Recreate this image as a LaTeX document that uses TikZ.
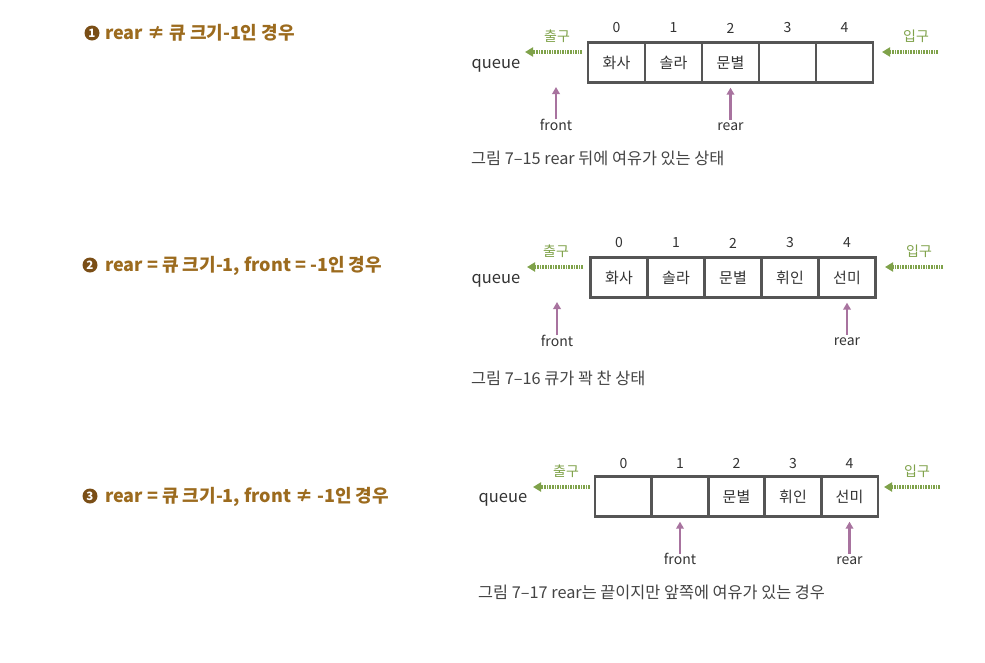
\documentclass[tikz,border=0pt]{standalone}
\usepackage{fontspec}
\setmainfont{Noto Sans CJK KR}
\usetikzlibrary{arrows.meta, positioning}
\definecolor{qBrown}{HTML}{9C6B1E}
\definecolor{qDark}{HTML}{7A4E16}
\definecolor{qGreen}{HTML}{7FA24A}
\definecolor{qPurple}{HTML}{A8739F}
\definecolor{qGray}{HTML}{555555}
\definecolor{qText}{HTML}{333333}
\definecolor{qCap}{HTML}{444444}
\tikzset{
  cell/.style={draw=qGray, line width=2.3pt, minimum width=57pt, minimum height=40pt,
    inner sep=0pt, text=qText, font=\fontsize{15}{16}\selectfont},
  idx/.style={text=qText, inner sep=1pt, font=\fontsize{14}{15}\selectfont},
  lbl/.style={text=qText, inner sep=1pt, text height=10pt, text depth=3pt,
    font=\fontsize{14}{15}\selectfont},
  qname/.style={text=qText, inner sep=1pt, font=\fontsize{16.5}{18}\selectfont},
  gate/.style={text=qGreen, inner sep=1pt, font=\fontsize{14}{15}\selectfont},
  caption/.style={anchor=west, text=qCap, inner sep=0pt, font=\fontsize{16.3}{18}\selectfont},
  heading/.style={anchor=west, text=qBrown, inner sep=0pt, font=\fontsize{18}{19}\selectfont\bfseries},
  badge/.style={circle, fill=qDark, text=white, inner sep=0pt, minimum size=15pt,
    font=\fontsize{11.5}{11.5}\selectfont\bfseries},
  flow/.style={qGreen, line width=3.2pt, dash pattern=on 1.6pt off 1pt,
    -{Triangle[length=8pt, width=9pt]}},
  ptr/.style={qPurple, line width=2.4pt, -{Triangle[length=7pt, width=7.5pt]}}
}
\begin{document}
\begin{tikzpicture}[x=1pt, y=-1pt]
  \useasboundingbox[fill=white] (0,0) rectangle (985,662);

  % case 1
  \node[badge] (b1) at (92,33) {1};
  \node[heading] (h1) at (105,33) {rear ≠ 큐 크기-1인 경우};
  \foreach \v [count=\i from 0] in {화사,솔라,문별,{},{}} {
    \node[cell] (a\i) at (616.5+\i*57,62.5) {\v};
    \node[idx] (ia\i) at (616.5+\i*57,28) {\i};
  }
  \node[qname] (qa) at (496,66) {queue};
  \node[gate] (oa) at (557,36) {출구};
  \node[gate] (ea) at (916,36) {입구};
  \coordinate (oas) at (582,52);
  \coordinate (oae) at (525,52);
  \coordinate (eas) at (938,52);
  \coordinate (eae) at (882,52);
  \draw[flow] (oas) -- (oae);
  \draw[flow] (eas) -- (eae);
  \node[lbl] (fa) at (556,127) {front};
  \node[lbl, below=36pt of a2] (ra) {rear};
  \coordinate (fat) at (556,87);
  \draw[ptr] (fa.north) -- (fat);
  \draw[ptr] (ra.north) -- ([yshift=-4pt]a2.south);
  \node[caption] (ca) at (471,158) {그림 7–15 rear 뒤에 여유가 있는 상태};

  % case 2
  \node[badge] (b2) at (90,265) {2};
  \node[heading] (h2) at (105,266) {rear = 큐 크기-1, front = -1인 경우};
  \foreach \v [count=\i from 0] in {화사,솔라,문별,휘인,선미} {
    \node[cell] (b\i) at (619+\i*57,277.5) {\v};
    \node[idx] (ib\i) at (619+\i*57,243) {\i};
  }
  \node[qname] (qb) at (496,281) {queue};
  \node[gate] (ob) at (556,251) {출구};
  \node[gate] (eb) at (919,251) {입구};
  \coordinate (obs) at (583,267);
  \coordinate (obe) at (527,267);
  \coordinate (ebs) at (943,267);
  \coordinate (ebe) at (885,267);
  \draw[flow] (obs) -- (obe);
  \draw[flow] (ebs) -- (ebe);
  \node[lbl] (fb) at (557,343) {front};
  \node[lbl, below=36pt of b4] (rb) {rear};
  \coordinate (fbt) at (557,302);
  \draw[ptr] (fb.north) -- (fbt);
  \draw[ptr] (rb.north) -- ([yshift=-4pt]b4.south);
  \node[caption] (cb) at (471,378) {그림 7–16 큐가 꽉 찬 상태};

  % case 3
  \node[badge] (b3) at (90,496) {3};
  \node[heading] (h3) at (105,497) {rear = 큐 크기-1, front ≠ -1인 경우};
  \foreach \v [count=\i from 0] in {{},{},문별,휘인,선미} {
    \node[cell] (c\i) at (623.5+\i*56.5,496.5) {\v};
    \node[idx] (ic\i) at (623.5+\i*56.5,463) {\i};
  }
  \node[qname] (qc) at (503,500) {queue};
  \node[gate] (oc) at (566,471) {출구};
  \node[gate] (ec) at (917,471) {입구};
  \coordinate (ocs) at (590,487);
  \coordinate (oce) at (533,487);
  \coordinate (ecs) at (940,487);
  \coordinate (ece) at (884,487);
  \draw[flow] (ocs) -- (oce);
  \draw[flow] (ecs) -- (ece);
  \node[lbl, below=36pt of c1] (fc) {front};
  \node[lbl, below=36pt of c4] (rc) {rear};
  \draw[ptr] (fc.north) -- ([yshift=-4pt]c1.south);
  \draw[ptr] (rc.north) -- ([yshift=-4pt]c4.south);
  \node[caption] (cc) at (478,592) {그림 7–17 rear는 끝이지만 앞쪽에 여유가 있는 경우};
\end{tikzpicture}
\end{document}
